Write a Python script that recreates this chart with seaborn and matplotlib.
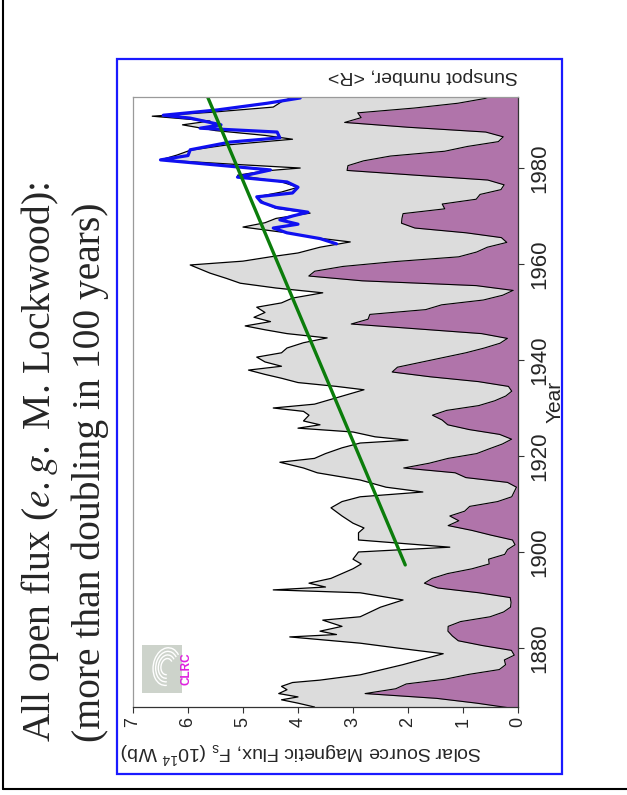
import numpy as np
import pandas as pd
import matplotlib
matplotlib.use("Agg")
import matplotlib.pyplot as plt
from matplotlib.patches import Rectangle, Arc
from matplotlib.lines import Line2D
import seaborn as sns

# open solar flux F_s (10^14 Wb) -- outline of the grey area
flux_years = [
    1867.7, 1868.5, 1869.2, 1869.8, 1870.5, 1871.3, 1872.0, 1872.8, 1873.3, 1874.4,
    1876.5, 1878.8, 1880.0, 1881.0, 1882.3, 1882.8, 1883.5, 1884.5, 1885.8, 1886.5,
    1888.5, 1890.0, 1891.5, 1892.1, 1892.7, 1893.5, 1894.5, 1895.5, 1896.5, 1897.5,
    1898.5, 1900.0, 1901.0, 1902.5, 1904.0, 1905.0, 1906.0, 1907.5, 1909.2, 1910.5,
    1911.5, 1912.5, 1913.5, 1915.0, 1916.5, 1917.5, 1918.7, 1919.5, 1920.5, 1921.7,
    1922.7, 1923.3, 1924.0, 1925.0, 1925.8, 1926.5, 1927.3, 1928.5, 1929.3, 1930.0,
    1930.8, 1931.8, 1932.8, 1933.8, 1934.5, 1935.3, 1936.2, 1937.0, 1937.9, 1938.7,
    1939.6, 1940.6, 1941.5, 1942.5, 1943.6, 1944.6, 1945.5, 1946.3, 1947.1, 1948.0,
    1948.9, 1949.9, 1951.0, 1951.9, 1952.9, 1954.0, 1955.0, 1956.0, 1957.0, 1958.1,
    1959.8, 1960.6, 1961.5, 1962.3, 1963.5, 1964.6, 1965.5, 1966.5, 1967.7, 1968.6,
    1969.5, 1970.6, 1971.6, 1972.6, 1974.0, 1975.0, 1976.0, 1977.1, 1978.5, 1979.4,
    1980.0, 1980.8, 1981.7, 1982.7, 1983.7, 1984.8, 1986.0, 1986.8, 1987.8, 1989.0,
    1989.8, 1990.8, 1991.6, 1992.7, 1993.8, 1994.8,
]
flux_vals = [
    3.7, 4.0, 4.3, 4.0, 4.35, 4.2, 4.3, 4.1, 3.6, 2.87,
    2.1, 1.36, 2.2, 2.87, 4.15, 3.3, 3.6, 3.2, 3.55, 2.87,
    2.5, 2.09, 2.87, 4.45, 3.5, 3.8, 3.4, 3.2, 3.0, 2.85,
    3.0, 2.9, 1.24, 2.9, 2.9, 2.8, 3.0, 3.2, 3.4, 3.2,
    2.87, 1.73, 2.4, 2.87, 3.65, 3.9, 4.33, 3.7, 3.5, 3.2,
    2.87, 2.0, 2.6, 3.0, 4.0, 3.6, 3.9, 3.8, 3.9, 4.45,
    3.7, 3.4, 3.1, 2.8, 3.3, 4.0, 4.3, 4.6, 4.9, 4.3,
    4.6, 4.75, 4.3, 4.2, 3.9, 3.47, 4.2, 4.6, 4.96, 4.5,
    4.8, 4.6, 4.75, 4.3, 4.1, 3.55, 4.4, 5.05, 5.3, 5.6,
    5.96, 5.0, 4.5, 4.0, 3.6, 3.05, 3.7, 4.2, 5.0, 4.6,
    4.4, 3.78, 4.4, 4.6, 4.75, 4.3, 4.0, 4.3, 5.1, 4.6,
    3.96, 5.2, 6.5, 6.2, 5.96, 5.3, 4.1, 4.6, 5.5, 6.1,
    5.6, 6.65, 5.6, 4.45, 4.3, 4.1,
]

# spacecraft-era flux (blue line)
sat_years = [1964.2, 1965.3, 1966.5, 1967.5, 1968.3, 1969.2, 1970.0, 1970.8, 1971.8, 1972.9,
             1974.0, 1974.8, 1976.0, 1977.1, 1978.1, 1979.6, 1980.6, 1981.7, 1982.6, 1983.8,
             1985.4, 1986.3, 1987.5, 1988.3, 1989.0, 1990.4, 1991.0, 1992.1, 1993.5, 1994.6]
sat_vals = [3.3, 3.6, 4.2, 4.45, 4.0, 4.33, 4.1, 3.82, 4.4, 4.67,
            4.75, 4.1, 4.0, 4.2, 5.1, 4.5, 5.45, 6.5, 6.0, 5.96,
            5.24, 4.33, 4.38, 5.78, 5.4, 5.96, 6.45, 5.47, 4.56, 3.96]

# annual mean sunspot number <R>, 1867-1995 (plotted mid-year)
ssn_years = np.arange(1867, 1996) + 0.5
ssn_vals = [
    7.3, 37.6, 74.0, 139.0, 111.2, 101.6, 66.2, 44.7, 17.0, 11.3,
    12.4, 3.4, 6.0, 32.3, 54.3, 59.7, 63.7, 63.5, 52.2, 25.4,
    13.1, 6.8, 6.3, 7.1, 35.6, 73.0, 85.1, 78.0, 64.0, 41.8,
    26.2, 26.7, 12.1, 9.5, 2.7, 5.0, 24.4, 42.0, 63.5, 53.8,
    62.0, 48.5, 43.9, 18.6, 5.7, 3.6, 1.4, 9.6, 47.4, 57.1,
    103.9, 80.6, 63.6, 37.6, 26.1, 14.2, 5.8, 16.7, 44.3, 63.9,
    69.0, 77.8, 64.9, 35.7, 21.2, 11.1, 5.7, 8.7, 36.1, 79.7,
    114.4, 109.6, 88.8, 67.8, 47.5, 30.6, 16.3, 9.6, 33.2, 92.6,
    151.6, 136.3, 134.7, 83.9, 69.4, 31.5, 13.9, 4.4, 38.0, 141.7,
    190.2, 184.8, 159.0, 112.3, 53.9, 37.6, 27.9, 10.2, 15.1, 47.0,
    93.8, 105.9, 105.5, 104.5, 66.6, 68.9, 38.0, 34.5, 15.5, 12.6,
    27.5, 92.5, 155.4, 154.6, 140.4, 115.9, 66.6, 45.9, 17.9, 13.4,
    29.4, 100.2, 157.6, 142.6, 145.7, 94.3, 54.6, 29.9, 17.5,
]

# linear trend (green)
trend_years = [1897.3, 1995.0]
trend_vals = [2.05, 5.65]

flux_ticks = [0, 1, 2, 3, 4, 5, 6, 7]
year_ticks = [1880, 1900, 1920, 1940, 1960, 1980]

sns.set_theme(style="white")
plt.rcParams["font.family"] = ["Liberation Sans", "DejaVu Sans"]

GREY = "#dcdcdc"
PURPLE = "#b074aa"

flux_df = pd.DataFrame({"year": flux_years, "flux": flux_vals})
sat_df = pd.DataFrame({"year": sat_years, "flux": sat_vals})
ssn_df = pd.DataFrame({"year": ssn_years, "ssn": ssn_vals})
trend_df = pd.DataFrame({"year": trend_years, "flux": trend_vals})

fig = plt.figure(figsize=(6.27, 7.95), dpi=100)
ax = fig.add_axes([133 / 627, 1 - 707 / 795, 385 / 627, 610 / 795])
ax.patch.set_facecolor("white")

# grey open-flux area
ax.fill_betweenx(flux_df["year"], 0, flux_df["flux"], color=GREY, lw=0)
sns.lineplot(data=flux_df, x="flux", y="year", orient="y", color="black", lw=0.9, ax=ax)
sns.lineplot(data=sat_df, x="flux", y="year", orient="y", color="#1010f0", lw=2.3, ax=ax)
sns.lineplot(data=trend_df, x="flux", y="year", orient="y", color="#0b7d0b", lw=2.4, ax=ax)

ax.set_xlim(7, 0)
ax.set_ylim(1867.7, 1994.8)
ax.set_xlabel("")
ax.set_ylabel("")
for s in ax.spines.values():
    s.set_visible(False)

ax.set_xticks(flux_ticks)
ax.set_xticklabels([str(t) for t in flux_ticks], rotation=90)
ax.yaxis.tick_right()
ax.set_yticks(year_ticks)
ax.set_yticklabels([str(t) for t in year_ticks], rotation=90, va="center")
ax.tick_params(axis="x", bottom=True, direction="out", length=4, width=0.8,
               color="#333333", labelsize=13, pad=3)
ax.tick_params(axis="y", right=True, left=False, labelright=True, labelleft=False,
               direction="out", length=4, width=0.8, color="#333333", labelsize=16, pad=4)

# sunspot number on a twin scale (purple)
ax2 = ax.twiny()
ax2.fill_betweenx(ssn_df["year"], 0, ssn_df["ssn"], color=PURPLE, lw=0)
sns.lineplot(data=ssn_df, x="ssn", y="year", orient="y", color="black", lw=0.8, ax=ax2)
ax2.set_xlim(350, 0)
ax2.set_ylim(1867.7, 1994.8)
ax2.set_xlabel("")
ax2.tick_params(axis="x", top=False, labeltop=False, bottom=False, labelbottom=False)
ax2.spines["left"].set_color("#9a9a9a")
ax2.spines["top"].set_color("#9a9a9a")
ax2.spines["right"].set_color("#333333")
ax2.spines["bottom"].set_color("#333333")
for s in ax2.spines.values():
    s.set_visible(True)
    s.set_linewidth(0.9)

ax.text(1.097, 0.5, "Year", transform=ax.transAxes, rotation=90,
        ha="center", va="center", fontsize=15)
ax.text((301 - 133) / 385, -0.074,
        r"Solar Source Magnetic Flux, F$_\mathregular{s}$ (10$^\mathregular{14}$ Wb)",
        transform=ax.transAxes, rotation=180, ha="center", va="center", fontsize=14)
ax.text(1.0, 1.036, "Sunspot number, <R>", transform=ax.transAxes, rotation=180,
        ha="right", va="center", fontsize=14)

# CLRC logo
logo = fig.add_axes([142 / 627, 1 - 693 / 795, 40 / 627, 48 / 795])
logo.set_facecolor("#cdd3cb")
logo.set_xticks([])
logo.set_yticks([])
for s in logo.spines.values():
    s.set_visible(False)
logo.set_xlim(0, 1)
logo.set_ylim(0, 1)
for r in [0.18, 0.26, 0.34, 0.42]:
    logo.add_patch(Arc((0.62, 0.55), r * 1.6, r * 1.9, angle=-20, theta1=60, theta2=290,
                       color="white", lw=1.0))
fig.text(186.5 / 627, 1 - 669 / 795, "CLRC", rotation=90, ha="center", va="center",
         fontsize=8.5, fontweight="bold", color="#e020e0")

# slide title
fig.text(40 / 627, 1 - 742 / 795, r"All open flux ($\it{e.g.}$ M. Lockwood):",
         rotation=90, ha="center", va="bottom", fontsize=28.5,
         family="Liberation Serif", math_fontfamily="stix")
fig.text(90 / 627, 1 - 742 / 795, "(more than doubling in 100 years)",
         rotation=90, ha="center", va="bottom", fontsize=28.5, family="Liberation Serif")

# frames
fig.add_artist(Rectangle((117 / 627, 1 - 774 / 795), 445 / 627, 715 / 795,
                         transform=fig.transFigure, fill=False, ec="#1a1aff", lw=1.6))
fig.add_artist(Line2D([3 / 627, 3 / 627], [1 - 789 / 795, 1], transform=fig.transFigure,
                      color="black", lw=1.5))
fig.add_artist(Line2D([3 / 627, 1], [1 - 789 / 795, 1 - 789 / 795],
                      transform=fig.transFigure, color="black", lw=1.5))

fig.savefig("out.png", dpi=100)
